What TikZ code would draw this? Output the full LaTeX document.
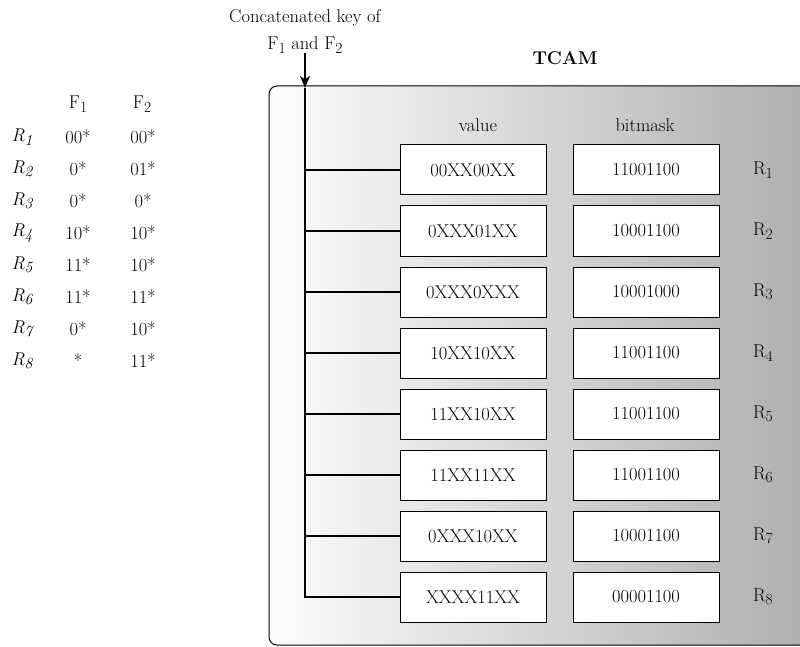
\documentclass[tikz,border=0pt]{standalone}
\usetikzlibrary{arrows.meta}
\newcommand{\mysub}[1]{\raisebox{-0.45ex}{\fontsize{15.5}{16}\selectfont #1}}
\begin{document}
\begin{tikzpicture}[x=1pt,y=-1pt, font=\fontsize{18.5}{22}\selectfont,
  cell/.style={draw, line width=1pt, fill=white, minimum width=146pt, minimum height=50pt, inner sep=0pt},
  trunk/.style={line width=2.4pt},
  branch/.style={line width=1.8pt},
  lbl/.style={inner sep=0pt}]
\useasboundingbox (0,0) rectangle (800,647);
% TCAM body
\path[draw, line width=1pt, rounded corners=8pt, left color=gray!2, right color=gray!63] (269,86) rectangle (808,645);
\node[lbl, font=\fontsize{18.5}{22}\selectfont\bfseries] (tcam) at (565,58) {TCAM};
\node[lbl] (hval) at (478,125) {value};
\node[lbl] (hmask) at (645,125) {bitmask};
% key
\node[lbl] (key1) at (305,18) {Concatenated key of};
\node[lbl] (key2) at (305,45) {F\mysub{1} and F\mysub{2}};
\coordinate (ktop) at (305,53);
\coordinate (kin) at (305,88);
\draw[trunk, -{Stealth[length=12pt,width=10pt,inset=3.5pt]}] (ktop) -- (kin);
% rows
\foreach \i/\v/\m in {1/00XX00XX/11001100, 2/0XXX01XX/10001100, 3/0XXX0XXX/10001000,
  4/10XX10XX/11001100, 5/11XX10XX/11001100, 6/11XX11XX/11001100,
  7/0XXX10XX/10001100, 8/XXXX11XX/00001100}{
  \pgfmathsetmacro{\yy}{170+61*(\i-1)}
  \node[cell] (v\i) at (473,\yy) {\v};
  \node[cell] (m\i) at (646,\yy) {\m};
  \node[lbl] (r\i) at (763,\yy) {R\mysub{\i}};
}
\draw[trunk] (kin) -- (305,597) -- (v8.west);
\foreach \i in {1,...,7}{
  \draw[branch] (v\i.west) -- (v\i.west -| kin);
}
% left table
\node[lbl] (hf1) at (78,104) {F\mysub{1}};
\node[lbl] (hf2) at (142,104) {F\mysub{2}};
\foreach \i/\a/\b in {1/00*/00*, 2/0*/01*, 3/0*/0*, 4/10*/10*, 5/11*/10*, 6/11*/11*, 7/0*/10*, 8/*/11*}{
  \pgfmathsetmacro{\yy}{137+32*(\i-1)}
  \node[lbl] (lr\i) at (22,\yy) {\itshape R\mysub{\itshape\i}};
  \node[lbl] (la\i) at (78,\yy) {\a};
  \node[lbl] (lb\i) at (143,\yy) {\b};
}
\end{tikzpicture}
\end{document}
